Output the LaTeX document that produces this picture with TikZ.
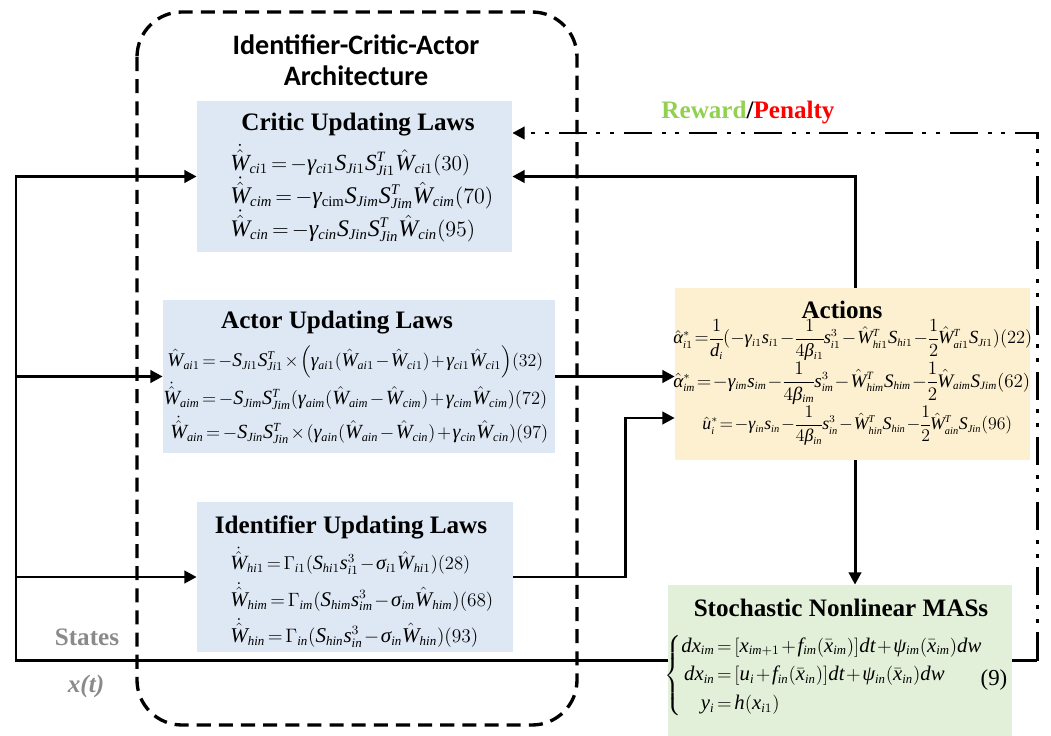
\documentclass[tikz,border=0pt]{standalone}
\usepackage{amsmath}
\usepackage{graphicx}
\usepackage{fontspec}
\setmainfont{Liberation Serif}
\newfontfamily\archfont{Carlito}
% Times-like italic letters in math
\DeclareSymbolFont{letters}{TU}{\rmdefault}{m}{it}
\Umathchardef\alpha="0 \symletters "03B1
\Umathchardef\beta="0 \symletters "03B2
\Umathchardef\gamma="0 \symletters "03B3
\Umathchardef\sigma="0 \symletters "03C3
\Umathchardef\psi="0 \symletters "03C8
\DeclareMathSizes{13}{13}{8}{6}
\DeclareMathSizes{12}{12}{7}{5}
\thickmuskip=2.5mu plus 2mu
\medmuskip=1.5mu plus 1mu
\usetikzlibrary{arrows.meta}
\definecolor{critblue}{HTML}{DDE8F4}
\definecolor{actcream}{HTML}{FDF0D0}
\definecolor{masgreen}{HTML}{E2EFD9}
\definecolor{stategray}{HTML}{8A8A8A}
\definecolor{rewgreen}{HTML}{92D050}
\newcommand{\eqsize}{\fontsize{13}{15}\selectfont}
\newcommand{\actsize}{\fontsize{12}{14}\selectfont
  \thickmuskip=1.5mu\relax \medmuskip=1mu\relax \nulldelimiterspace=0pt\relax}
\newcommand{\headsize}{\fontsize{14.3}{17}\selectfont\bfseries}
\newcommand{\fiteq}[2]{\resizebox{#1}{!}{$\displaystyle #2$}}
\begin{document}
\begin{tikzpicture}[
    x=0.02cm, y=-0.02cm,
    lawbox/.style={fill=critblue, inner sep=0pt},
    head/.style={font=\headsize, inner sep=0pt},
    eqn/.style={anchor=west, inner sep=0pt, font=\eqsize},
    acteqn/.style={eqn, font=\actsize},
    wire/.style={line width=1.7pt},
    arr/.style={wire, -{Triangle[length=7pt,width=7pt]}},
    dashdot line/.style={wire, dash pattern=on 16pt off 5.5pt on 2.3pt off 5.5pt on 2.3pt off 5.5pt},
    ]
\useasboundingbox (0,0) rectangle (1051,736);
% architecture frame
\draw[line width=1.9pt, dash pattern=on 8pt off 4.6pt, rounded corners=0.9cm]
    (137,12) rectangle (577,725);
\node[font=\archfont\fontsize{16}{17.5}\selectfont\bfseries, align=center] (arch) at (356,60)
    {Identifier-Critic-Actor\\Architecture};
% law boxes
\node[lawbox, minimum width=6.3cm, minimum height=3.02cm] (critic) at (354.5,176.5) {};
\node[lawbox, minimum width=7.84cm, minimum height=3.06cm] (actor) at (359,376.5) {};
\node[lawbox, minimum width=6.32cm, minimum height=3.0cm] (ident) at (355,577) {};
\node[fill=actcream, inner sep=0pt, minimum width=7.1cm, minimum height=3.44cm] (act) at (852.5,374) {};
\node[fill=masgreen, inner sep=0pt, minimum width=6.88cm, minimum height=3.02cm] (mas) at (840,660.5) {};
% critic
\node[head] (criticT) at (358,125) {Critic Updating Laws};
\node[eqn] (c1) at (230,160) {\fiteq{4.8cm}{\dot{\hat{W}}_{ci1} = -\gamma_{ci1} S_{Ji1} S_{Ji1}^{T} \hat{W}_{ci1}(30)}};
\node[eqn] (c2) at (230,193) {\fiteq{5.26cm}{\dot{\hat{W}}_{cim} = -\gamma_{\mathrm{cim}} S_{Jim} S_{Jim}^{T} \hat{W}_{cim}(70)}};
\node[eqn] (c3) at (230,226) {\fiteq{4.9cm}{\dot{\hat{W}}_{cin} = -\gamma_{cin} S_{Jin} S_{Jin}^{T} \hat{W}_{cin}(95)}};
% actor
\node[head] (actorT) at (337,323) {Actor Updating Laws};
\node[eqn] (a1) at (167,362) {\fiteq{7.52cm}{\hat{W}_{ai1} = -S_{Ji1} S_{Ji1}^{T} \times \Big(\gamma_{ai1}(\hat{W}_{ai1} - \hat{W}_{ci1}) + \gamma_{ci1}\hat{W}_{ci1}\Big)(32)}};
\node[eqn] (a2) at (163,396) {\fiteq{7.68cm}{\dot{\hat{W}}_{aim} = -S_{Jim} S_{Jim}^{T} (\gamma_{aim}(\hat{W}_{aim} - \hat{W}_{cim}) + \gamma_{cim}\hat{W}_{cim})(72)}};
\node[eqn] (a3) at (170,430) {\fiteq{7.56cm}{\dot{\hat{W}}_{ain} = -S_{Jin} S_{Jin}^{T} \times (\gamma_{ain}(\hat{W}_{ain} - \hat{W}_{cin}) + \gamma_{cin}\hat{W}_{cin})(97)}};
% identifier
\node[head] (identT) at (351,527) {Identifier Updating Laws};
\node[eqn] (h1) at (230,561) {\fiteq{4.8cm}{\dot{\hat{W}}_{hi1} = \Gamma_{i1}(S_{hi1} s_{i1}^{3} - \sigma_{i1}\hat{W}_{hi1})(28)}};
\node[eqn] (h2) at (230,597) {\fiteq{5.26cm}{\dot{\hat{W}}_{him} = \Gamma_{im}(S_{him} s_{im}^{3} - \sigma_{im}\hat{W}_{him})(68)}};
\node[eqn] (h3) at (230,633) {\fiteq{4.96cm}{\dot{\hat{W}}_{hin} = \Gamma_{in}(S_{hin} s_{in}^{3} - \sigma_{in}\hat{W}_{hin})(93)}};
% actions
\node[head] (actT) at (842,310) {Actions};
\node[acteqn] (p1) at (673,340)
    {\fiteq{7.18cm}{\hat{\alpha}_{i1}^{*} = \frac{1}{d_i}(-\gamma_{i1}s_{i1} - \frac{1}{4\beta_{i1}}s_{i1}^{3} - \hat{W}_{hi1}^{T}S_{hi1} - \frac{1}{2}\hat{W}_{ai1}^{T}S_{Ji1})(22)}};
\node[acteqn] (p2) at (673,383)
    {\fiteq{7.14cm}{\hat{\alpha}_{im}^{*} = -\gamma_{im}s_{im} - \frac{1}{4\beta_{im}}s_{im}^{3} - \hat{W}_{him}^{T}S_{him} - \frac{1}{2}\hat{W}_{aim}S_{Jim}(62)}};
\node[acteqn] (p3) at (702,426)
    {\fiteq{6.2cm}{\hat{u}_{i}^{*} = -\gamma_{in}s_{in} - \frac{1}{4\beta_{in}}s_{in}^{3} - \hat{W}_{hin}^{T}S_{hin} - \frac{1}{2}\hat{W}_{ain}^{T}S_{Jin}(96)}};
% stochastic MASs
\node[head] (masT) at (841,608) {Stochastic Nonlinear MASs};
\node[eqn] (m1) at (664,676)
    {\fiteq{6.38cm}{\left\{\begin{aligned}
      dx_{im} &= [x_{im+1} + f_{im}(\bar{x}_{im})]dt + \psi_{im}(\bar{x}_{im})dw\\
      dx_{in} &= [u_i + f_{in}(\bar{x}_{in})]dt + \psi_{in}(\bar{x}_{in})dw\\
      y_i &= h(x_{i1})
    \end{aligned}\right.}};
\node[font=\eqsize, inner sep=0pt] (m9) at (994,680) {(9)};
% labels
\node[font=\headsize, text=stategray, inner sep=0pt] (states) at (87,637) {States};
\node[font=\headsize\itshape, text=stategray, inner sep=0pt] (xt) at (86,686) {x(t)};
\node[font=\headsize, inner sep=0pt] (rew) at (748,112)
    {\textcolor{rewgreen}{Reward}/\textcolor{red}{Penalty}};
% connectors
\coordinate (xl) at (16,0);
\coordinate (jog) at (625,418);
\coordinate (rc) at (1037,133);
\draw[arr] (mas.west) -| (xl |- critic.west) -- (critic.west);
\draw[arr] (xl |- actor.west) -- (actor.west);
\draw[arr] (xl |- ident.west) -- (ident.west);
\draw[arr] (act.north -| 855,0) |- (critic.east);
\draw[arr] (actor.east) -- (actor.east -| act.west);
\draw[arr] (ident.east) -| (jog) -- (jog -| act.west);
\draw[arr] (act.south -| 855,0) -- (mas.north -| 855,0);
\draw[wire] (mas.east) -- (mas.east -| rc);
\draw[dashdot line, -{Triangle[length=7pt,width=7pt]}] (mas.east -| rc) -- (rc) -- (rc -| critic.east);
\end{tikzpicture}
\end{document}
